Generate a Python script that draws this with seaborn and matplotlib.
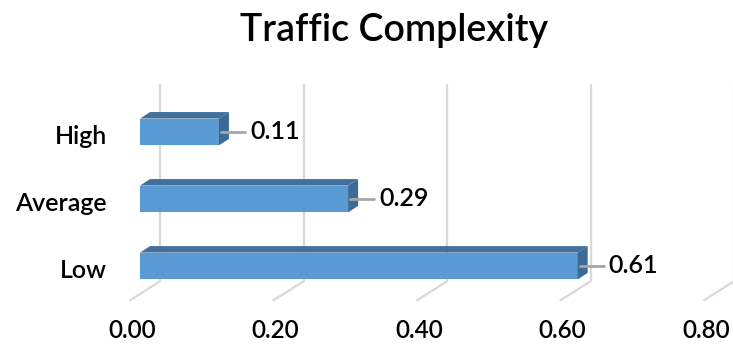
import matplotlib
matplotlib.use("Agg")
import matplotlib.pyplot as plt
import matplotlib.transforms as mtransforms
from matplotlib.patches import Polygon
import seaborn as sns
import pandas as pd

categories = ["High", "Average", "Low"]
values = [0.11, 0.29, 0.61]
tick_values = [0.0, 0.2, 0.4, 0.6, 0.8]
tick_labels = ["0.00", "0.20", "0.40", "0.60", "0.80"]
title = "Traffic Complexity"

sns.set_theme(style="white")
plt.rcParams["font.family"] = ["Lato", "DejaVu Sans"]
FW = "semibold"

W, H = 733, 346
fig = plt.figure(figsize=(W / 100, H / 100), dpi=100)
# axes in pixel terms: left 140, right 714, top 98, bottom 294
ax = fig.add_axes([140 / W, (H - 294) / H, (714 - 140) / W, (294 - 98) / H])
ax.set_xlim(0, 0.8)

df = pd.DataFrame({"category": categories, "value": values})
sns.barplot(data=df, x="value", y="category", orient="h", color="#5B9BD5",
            width=0.4, saturation=1, ax=ax, zorder=3, edgecolor="none")
ax.set_ylim(2.418, -0.507)
ax.set_xlim(0, 0.8)

for s in ax.spines.values():
    s.set_visible(False)
ax.set_xticks([])
ax.set_yticks([])
ax.set_xlabel("")
ax.set_ylabel("")

dpx, dpy = 10, 6.5
def off(dx, dy, trans=None):
    return mtransforms.offset_copy(trans or ax.transData, fig=fig, x=dx, y=dy, units="dots")

grid_col = "#d9d9d9"
bx = ax.get_xaxis_transform()
inv = fig.transFigure.inverted()
for v, lab in zip(tick_values, tick_labels):
    # back wall vertical gridline
    ax.plot([v, v], [0, 1], transform=off(20, 12.7, bx), color=grid_col, lw=1.6,
            clip_on=False, zorder=1)
    # floor diagonal
    x0, _ = ax.transData.transform((v, 0))
    ybot = ax.transAxes.transform((0, 0))[1]
    p1 = inv.transform((x0 - 10, ybot - 6.3))
    p2 = inv.transform((x0 + 20, ybot + 12.7))
    fig.add_artist(plt.Line2D([p1[0], p2[0]], [p1[1], p2[1]], color=grid_col, lw=1.6, zorder=1))
    ax.text(v, 0, lab, transform=off(-8, -37, bx), ha="center", va="center",
            fontsize=17.5, fontweight=FW, color="#000000")

# 3D faces for each bar, derived from the seaborn patches
for p, val in zip(ax.patches, values):
    x, y, w, h = p.get_x(), p.get_y(), p.get_width(), p.get_height()
    (X0, Ya) = ax.transData.transform((x, y))
    (X1, Yb) = ax.transData.transform((x + w, y + h))
    top_hi = max(Ya, Yb)
    low = min(Ya, Yb)
    top_face = [(X0, top_hi), (X1, top_hi), (X1 + dpx, top_hi + dpy), (X0 + dpx, top_hi + dpy)]
    side_face = [(X1, top_hi), (X1 + dpx, top_hi + dpy), (X1 + dpx, low + dpy), (X1, low)]
    fig.add_artist(Polygon([inv.transform(pt) for pt in top_face], closed=True,
                           facecolor="#41719C", edgecolor="none", zorder=4))
    fig.add_artist(Polygon([inv.transform(pt) for pt in side_face], closed=True,
                           facecolor="#3A6A95", edgecolor="none", zorder=4))
    yc = y + h / 2
    ymid = (top_hi + low) / 2
    l1 = inv.transform((X1 + 2, ymid))
    l2 = inv.transform((X1 + 26, ymid))
    fig.add_artist(plt.Line2D([l1[0], l2[0]], [l1[1], l2[1]], color="#a6a6a6", lw=2, zorder=5))
    ax.text(val, yc, f"{val:.2f}", transform=off(31, 0), ha="left", va="center",
            fontsize=18, fontweight=FW, color="#000000", clip_on=False)

# category labels
for i, c in enumerate(categories):
    ax.text(0, i, c, transform=off(-33, -5), ha="right", va="center", fontsize=18,
            fontweight=FW, color="#000000")

fig.text(394 / W, 1 - 30 / H, title, ha="center", va="center", fontsize=27,
         fontweight=FW, color="#000000")

fig.savefig("out.png", dpi=100, facecolor="white")
